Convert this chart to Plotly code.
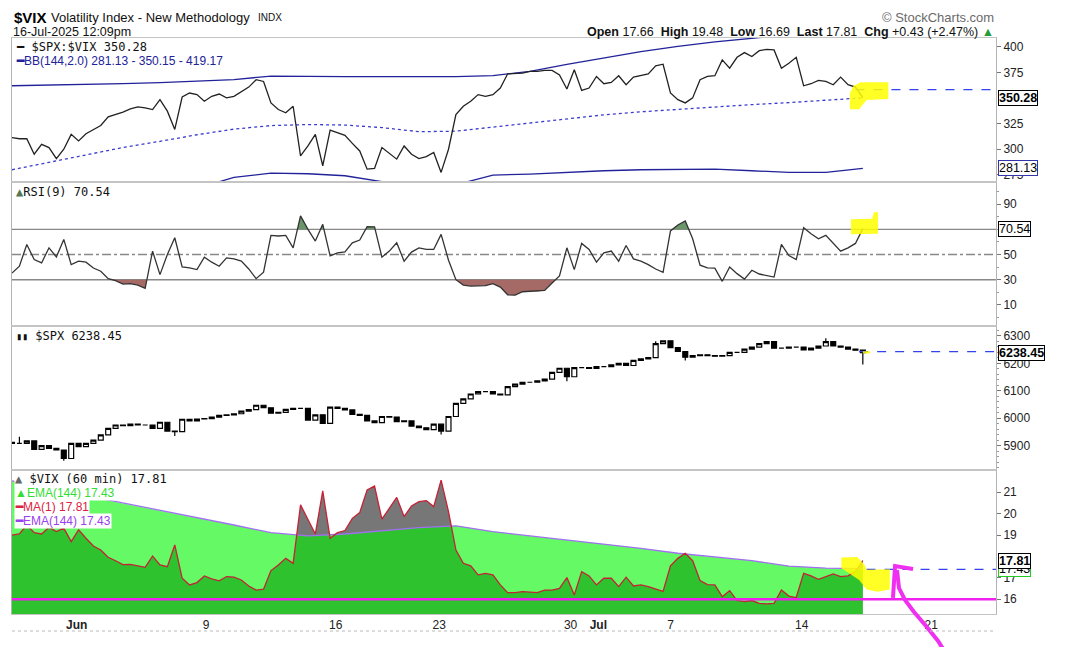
import numpy as np
import plotly.graph_objects as go
from plotly.subplots import make_subplots

# 60 min bars, every 2nd bar (bar 0 = left edge of the chart)
bars = list(range(0, 231, 2))
# slow lines (bands, EMA) read every 10 bars
bars10 = list(range(0, 231, 10))

# $SPX:$VIX ratio
ratio = [311.1, 310.1, 310.1, 294.9, 304.6, 301.4, 290.7, 299.8, 314.4, 307.9,
         315.0, 319.2, 323.1, 331.5, 333.8, 336.1, 339.3, 341.3, 340.3, 338.7,
         348.4, 337.1, 319.2, 351.0, 354.9, 353.3, 346.8, 351.7, 353.9, 350.1,
         351.7, 355.9, 360.7, 367.9, 366.2, 345.2, 338.7, 335.5, 341.9, 293.3,
         303.0, 314.4, 283.6, 318.6, 316.0, 313.4, 305.6, 298.1, 280.3, 281.0,
         301.4, 295.9, 290.1, 303.0, 294.9, 290.7, 292.6, 296.6, 277.1, 299.8,
         333.8, 341.9, 346.8, 353.3, 351.7, 353.3, 359.8, 373.7, 374.4, 374.4,
         376.0, 376.0, 377.0, 377.0, 372.7, 358.8, 377.6, 357.5, 359.8, 371.1,
         364.0, 365.3, 371.8, 363.0, 370.5, 371.8, 373.7, 381.5, 383.1, 354.9,
         348.4, 345.2, 350.1, 367.9, 371.1, 371.8, 387.3, 379.2, 389.9, 394.5,
         390.6, 396.4, 397.7, 397.1, 379.2, 384.1, 389.9, 362.0, 364.0, 367.2,
         366.2, 363.0, 370.5, 363.0, 360.7, 350.28]
bb_upper = [362, 362.5, 363, 364, 365, 366.5, 368, 371.5, 371, 371, 371, 371,
            371, 372, 376, 383, 389.5, 395.5, 400.5, 405, 408.5, 412, 415.5, 419.17]
bb_mid = [279.7, 287, 294.5, 301.5, 307.5, 314, 319.5, 323, 324, 323.5, 321, 317,
          317.5, 321.5, 326, 329.5, 333.5, 336.5, 339, 341.5, 343.5, 345.5, 348, 350.15]
bb_lower = [197, 211.5, 226, 239, 250, 261.5, 272.2, 276.4, 275.8, 273.8, 268, 263,
            265, 274.5, 275.4, 277.1, 278.7, 279.7, 280.3, 280.3, 278.7, 277.1, 277.1, 281.13]

# RSI(9)
rsi = [35.3, 40.7, 58.0, 46.0, 43.3, 55.3, 48.1, 62.0, 42.0, 44.7,
       43.9, 39.3, 36.7, 30.8, 29.2, 26.5, 26.8, 25.7, 23.1, 52.7,
       34.0, 50.0, 63.3, 40.1, 39.3, 38.0, 47.9, 43.9, 40.7, 47.3,
       46.5, 44.7, 38.5, 30.8, 35.9, 65.2, 64.7, 65.2, 55.3, 80.7,
       70.0, 60.7, 74.0, 48.9, 51.3, 52.1, 59.3, 61.5, 72.1, 71.9,
       47.9, 52.7, 59.3, 44.7, 51.9, 55.3, 54.0, 54.0, 66.0, 45.5,
       30.0, 25.7, 24.9, 25.2, 25.2, 26.8, 24.1, 18.0, 17.7, 20.4,
       20.7, 20.7, 21.5, 27.3, 32.9, 55.3, 38.0, 58.8, 54.0, 43.9,
       51.3, 52.7, 44.7, 57.2, 46.5, 44.7, 42.0, 38.5, 35.9, 68.7,
       73.5, 76.7, 62.5, 41.5, 39.3, 39.1, 28.7, 40.1, 34.8, 30.5,
       37.5, 34.5, 33.5, 32.1, 58.0, 49.2, 46.0, 71.3, 66.5, 62.5,
       65.2, 59.3, 52.7, 55.3, 58.8, 70.54]

# $SPX candles
spx_close = [5908, 5908, 5917, 5886, 5900, 5890, 5884, 5853, 5908, 5896,
             5908, 5920, 5939, 5963, 5975, 5973, 5978, 5975, 5975, 5963,
             5985, 5953, 5951, 5996, 5990, 5997, 5998, 6004, 6010, 6012,
             6016, 6026, 6031, 6047, 6038, 6018, 6021, 6032, 6036, 6036,
             5993, 6012, 5981, 6040, 6036, 6030, 6014, 6010, 5990, 5984,
             6006, 6004, 5987, 5990, 5971, 5965, 5958, 5978, 5953, 6006,
             6054, 6070, 6088, 6097, 6097, 6088, 6085, 6115, 6124, 6131,
             6131, 6136, 6142, 6167, 6182, 6151, 6184, 6184, 6181, 6188,
             6188, 6194, 6200, 6192, 6211, 6216, 6221, 6272, 6282, 6257,
             6243, 6222, 6228, 6231, 6228, 6226, 6228, 6240, 6240, 6252,
             6259, 6272, 6279, 6255, 6255, 6259, 6259, 6249, 6255, 6263,
             6279, 6263, 6259, 6252, 6248, 6238.45]
spx_open = [5912, 5908, 5908, 5917, 5886, 5900, 5890, 5884, 5853, 5908,
            5896, 5908, 5920, 5939, 5963, 5975, 5973, 5978, 5975, 5975,
            5963, 5985, 5953, 5951, 5996, 5990, 5997, 5998, 6004, 6010,
            6012, 6016, 6026, 6031, 6047, 6038, 6018, 6021, 6032, 6036,
            6036, 5993, 6012, 5981, 6040, 6036, 6030, 6014, 6010, 5990,
            5984, 6006, 6004, 5987, 5990, 5971, 5965, 5958, 5978, 5953,
            6006, 6054, 6070, 6088, 6097, 6097, 6088, 6085, 6115, 6124,
            6131, 6131, 6136, 6142, 6167, 6182, 6151, 6184, 6184, 6181,
            6188, 6188, 6194, 6200, 6192, 6211, 6216, 6221, 6272, 6282,
            6257, 6243, 6222, 6228, 6231, 6228, 6226, 6228, 6240, 6240,
            6252, 6259, 6272, 6279, 6255, 6255, 6259, 6259, 6249, 6255,
            6263, 6279, 6263, 6259, 6252, 6248]
# longer wicks seen on the chart (bar -> price)
spx_wick_low = {14: 5845, 44: 5935, 116: 5940, 150: 6135, 182: 6210, 230: 6196}
spx_wick_high = {2: 5932, 220: 6291, 174: 6280}

# $VIX (60 min) and EMA(144)
vix = [19.0, 19.05, 19.47, 19.11, 19.05, 19.36, 19.16, 19.32, 18.69, 19.24,
       18.85, 18.49, 18.3, 17.96, 17.8, 17.62, 17.63, 17.56, 17.49, 18.02,
       17.6, 17.52, 18.54, 16.98, 16.67, 16.78, 17.09, 16.95, 16.86, 17.06,
       17.03, 16.9, 16.62, 16.43, 16.47, 17.34, 17.6, 17.91, 17.68, 20.41,
       19.71, 19.05, 21.06, 18.85, 19.11, 19.21, 19.78, 20.05, 21.11, 21.29,
       19.74, 20.25, 20.76, 19.86, 20.36, 20.56, 20.61, 20.33, 21.57, 20.09,
       18.3, 17.68, 17.56, 17.14, 17.21, 17.14, 16.67, 16.31, 16.31, 16.36,
       16.34, 16.31, 16.43, 16.43, 16.51, 17.01, 16.2, 17.29, 17.09, 16.67,
       16.98, 16.98, 16.59, 17.03, 16.62, 16.67, 16.59, 16.48, 16.37, 17.56,
       17.91, 18.15, 17.8, 16.87, 16.68, 16.67, 16.12, 16.4, 15.94, 15.89,
       15.94, 15.81, 15.78, 15.81, 16.43, 16.15, 16.08, 17.21, 17.09, 16.93,
       17.06, 17.18, 17.06, 17.09, 17.29, 17.81]
ema144 = [21.53, 21.19, 20.83, 20.48, 20.14, 19.8, 19.47, 19.11, 18.96, 19.05, 19.19, 19.35,
          19.43, 19.16, 18.96, 18.77, 18.58, 18.38, 18.15, 17.96, 17.8, 17.55, 17.45, 17.43]

# date labels (bar position of first bar of the day)
tick_pos = [17.5, 52.5, 87.5, 115.5, 151, 158.5, 178, 213.5, 248.5]
tick_text = ["<b>Jun</b>", "9", "16", "23", "30", "<b>Jul</b>", "7", "14", "21"]

# page pixels: the figure sits 8px in from the page corner
OFF = 8
W, H = 1058, 639
L, R, T, B = 4, 70, 30, 33


def px(x, y):
    # pixel position on the page -> paper coordinates
    x, y = x - OFF, y - OFF
    return (x - L) / (W - L - R), (H - B - y) / (H - T - B)


def band(x, y, level, above):
    # polygon between a line and a level, only on one side
    xo, yo = [], []
    for i in range(len(x)):
        if i > 0:
            d0, d1 = y[i - 1] - level, y[i] - level
            if d0 * d1 < 0:
                t = d0 / (d0 - d1)
                xo.append(x[i - 1] + t * (x[i] - x[i - 1]))
                yo.append(level)
        yo.append(max(y[i], level) if above else min(y[i], level))
        xo.append(x[i])
    return xo + xo[::-1], yo + [level] * len(xo)


fig = make_subplots(rows=4, cols=1, shared_xaxes=True, vertical_spacing=0)

BLUE = "#22229a"
# panel 1: ratio + bollinger bands
fig.add_trace(go.Scatter(x=bars10, y=bb_upper, mode="lines", line=dict(color=BLUE, width=1.3)), row=1, col=1)
fig.add_trace(go.Scatter(x=bars10, y=bb_lower, mode="lines", line=dict(color=BLUE, width=1.3)), row=1, col=1)
fig.add_trace(go.Scatter(x=bars10, y=bb_mid, mode="lines", line=dict(color="#3b3bd0", width=1.3, dash="dot")), row=1, col=1)
fig.add_trace(go.Scatter(x=bars, y=ratio, mode="lines", line=dict(color="#222", width=1.3)), row=1, col=1)

# panel 2: RSI
ox, oy = band(bars, rsi, 70, True)
fig.add_trace(go.Scatter(x=ox, y=oy, fill="toself", fillcolor="#6a966a", mode="none"), row=2, col=1)
ux, uy = band(bars, rsi, 30, False)
fig.add_trace(go.Scatter(x=ux, y=uy, fill="toself", fillcolor="#a56a66", mode="none"), row=2, col=1)
fig.add_trace(go.Scatter(x=bars, y=rsi, mode="lines", line=dict(color="#333", width=1.3)), row=2, col=1)

# panel 3: SPX candles
spx_hi = np.maximum(spx_open, spx_close).astype(float)
spx_lo = np.minimum(spx_open, spx_close).astype(float)
for b, v in spx_wick_low.items():
    spx_lo[bars.index(b)] = v
for b, v in spx_wick_high.items():
    spx_hi[bars.index(b)] = v
fig.add_trace(go.Candlestick(x=bars, open=spx_open, high=spx_hi, low=spx_lo, close=spx_close,
                             increasing=dict(line=dict(color="black", width=1.2), fillcolor="white"),
                             decreasing=dict(line=dict(color="black", width=1.2), fillcolor="black"),
                             whiskerwidth=0), row=3, col=1)

# panel 4: VIX area under a see-through EMA area
fig.add_trace(go.Scatter(x=bars, y=vix, fill="tozeroy", fillcolor="#777777", mode="none"), row=4, col=1)
fig.add_trace(go.Scatter(x=bars10, y=ema144, fill="tozeroy", fillcolor="rgba(0,245,0,0.6)", mode="none"), row=4, col=1)
fig.add_trace(go.Scatter(x=bars10, y=ema144, mode="lines", line=dict(color="#a070f0", width=1.3)), row=4, col=1)
fig.add_trace(go.Scatter(x=bars, y=vix, mode="lines", line=dict(color="#c42236", width=1.3)), row=4, col=1)

tickfont = dict(family="Liberation Sans", size=12, color="#222")
fig.update_xaxes(range=[0, 266], showgrid=False, zeroline=False, showline=True, mirror=True,
                 linecolor="#c4c4c4", rangeslider_visible=False, ticks="")
fig.update_xaxes(tickvals=tick_pos, ticktext=tick_text, tickfont=tickfont, row=4, col=1)
fig.update_yaxes(side="right", showgrid=False, zeroline=False, showline=True, mirror=True,
                 linecolor="#b4b4b4", ticks="outside", ticklen=4, tickcolor="#777", tickfont=tickfont)
# tick labels fully hidden behind the last-value boxes are left out
fig.update_yaxes(range=[267.7, 408.8], tickvals=[275, 300, 325, 375, 400], row=1, col=1)
fig.update_yaxes(range=[-6.8, 107.6], tickvals=[10, 30, 50, 90],
                 minor=dict(ticks="outside", ticklen=2, tickcolor="#999", dtick=10), row=2, col=1)
fig.update_yaxes(range=[5811, 6336], tickvals=[5900, 6000, 6100, 6200, 6300],
                 minor=dict(ticks="outside", ticklen=2, tickcolor="#999", dtick=20), row=3, col=1)
fig.update_yaxes(range=[15.31, 22.04], tickvals=[16, 17, 19, 20, 21], row=4, col=1)

shapes = []
# RSI levels
for lvl, dash in [(70, "solid"), (30, "solid"), (50, "dashdot")]:
    shapes.append(dict(type="line", xref="paper", x0=0, x1=1, yref="y2", y0=lvl, y1=lvl,
                       line=dict(color="#888", width=1.4, dash=dash), layer="below"))
# support line on VIX
shapes.append(dict(type="line", xref="paper", x0=0, x1=1, yref="y4", y0=16, y1=16,
                   line=dict(color="#f020f0", width=2.5)))
# last-value dashed lines
for yr, b0, v in [("y", 228, 358.2), ("y3", 229, 6242.8), ("y4", 231, 17.4)]:
    shapes.append(dict(type="line", xref="x", x0=b0, x1=266, yref=yr, y0=v, y1=v,
                       line=dict(color="#3344ee", width=1.3, dash="dash")))
# hand-drawn yellow highlights
hl = "rgba(255,255,0,0.85)"
shapes.append(dict(type="path", xref="x", yref="y", fillcolor=hl, line=dict(width=0),
                   path="M227.5,362 L229.5,365.5 L236.9,365.5 L236.9,349 L231,348 L229,339 L226.5,339 L226.5,355 Z"))
shapes.append(dict(type="path", xref="x2", yref="y2", fillcolor=hl, line=dict(width=0),
                   path="M226.8,78 L232.5,78.5 L233,83.5 L234.1,83.5 L234.1,66.5 L226.8,66 Z"))
shapes.append(dict(type="path", xref="x3", yref="y3", fillcolor=hl, line=dict(width=0),
                   path="M230,6244 L232,6244 L232,6236 L230,6236 Z"))
shapes.append(dict(type="path", xref="x4", yref="y4", fillcolor=hl, line=dict(width=0),
                   path="M224.2,17.95 L228.5,17.97 L230.5,17.6 L231,17.38 L237.3,17.4 L237.3,16.45 "
                        "L234,16.35 L231,16.45 L229,16.9 L226,17.25 L224.2,17.45 Z"))
# magenta arrow
pts_shaft = [px(897, 570), px(899, 588), px(905, 600), px(914, 612), px(926, 626), px(938, 641), px(945, 652)]
pts_head = [px(893, 598), px(895, 566), px(913, 569)]
for pts in (pts_shaft, pts_head):
    path = "M" + " L".join(f"{a:.4f},{b:.4f}" for a, b in pts)
    shapes.append(dict(type="path", xref="paper", yref="paper", path=path,
                       line=dict(color="#f030f0", width=4)))
# dotted line under the date labels
x0, y0 = px(12, 631)
shapes.append(dict(type="line", xref="paper", yref="paper", x0=0, x1=1, y0=y0, y1=y0,
                   line=dict(color="#bbb", width=1, dash="dot")))

ann = []


def text(x, y, s, size=12, color="#111", family="Liberation Sans", anchor="left", bg=None):
    a, b = px(x, y)
    d = dict(xref="paper", yref="paper", x=a, y=b, text=s, showarrow=False, xanchor=anchor,
             yanchor="middle", font=dict(family=family, size=size, color=color))
    if bg:
        d.update(bgcolor=bg, borderpad=0)
    ann.append(d)


text(12, 17, "<b>$VIX</b>", size=15, color="#000")
text(49, 17, "Volatility Index - New Methodology", size=13)
text(256, 17, "INDX", size=10)
text(11, 32.5, "16-Jul-2025 12:09pm", size=12.5)
text(996, 17, "© StockCharts.com", size=13, color="#6a6a6a", anchor="right")
text(996, 32.5, "<b>Open</b> 17.66  <b>High</b> 19.48  <b>Low</b> 16.69  <b>Last</b> 17.81  "
                "<b>Chg</b> +0.43 (+2.47%) <span style='color:#2a9a3a'>▲</span>", size=12.5, anchor="right")

mono = "DejaVu Sans Mono"
text(14, 47, "<b>━</b> $SPX:$VIX 350.28", size=12, family=mono)
text(14, 61, "<b>━</b>BB(144,2.0) 281.13 - 350.15 - 419.17", size=12, color=BLUE)
text(14, 192, "<span style='color:#557755'>▲</span>RSI(9) 70.54", size=12, family=mono)
text(14, 336, "<span style='font-size:10px'>▮▮</span> $SPX 6238.45", size=12, family=mono)
text(14, 479, "<span style='color:#666'>▲</span> $VIX (60 min) 17.81", size=12, family=mono, bg="white")
text(14, 493, "<span style='color:#33dd33'>▲</span>EMA(144) 17.43", size=12, color="#33dd33", bg="white")
text(14, 507, "<b>━</b>MA(1) 17.81", size=12, color="#dd2040", bg="white")
text(14, 521, "<b>━</b>EMA(144) 17.43", size=12, color="#9b40f0", bg="white")


def box(yref, v, s, border, color="#000"):
    ann.append(dict(xref="paper", x=1, xanchor="left", xshift=2, yref=yref, y=v, yanchor="middle",
                    text=s, showarrow=False, bgcolor="white", bordercolor=border, borderwidth=1,
                    borderpad=0, font=dict(family="Liberation Sans", size=12.5, color=color)))


box("y", 350.28, "<b>350.28</b>", "#000")
box("y", 281.13, "281.13", "#3333aa")
box("y2", 70.54, "70.54", "#000")
box("y3", 6238.45, "<b>6238.45</b>", "#000")
box("y4", 17.43, "17.43", "#22cc22")
box("y4", 17.81, "<b>17.81</b>", "#000")

fig.update_layout(width=W, height=H, margin=dict(l=L, r=R, t=T, b=B),
                  paper_bgcolor="white", plot_bgcolor="white", showlegend=False,
                  shapes=shapes, annotations=ann, hovermode=False, boxgap=0.05)

fig.write_html("out.html")
